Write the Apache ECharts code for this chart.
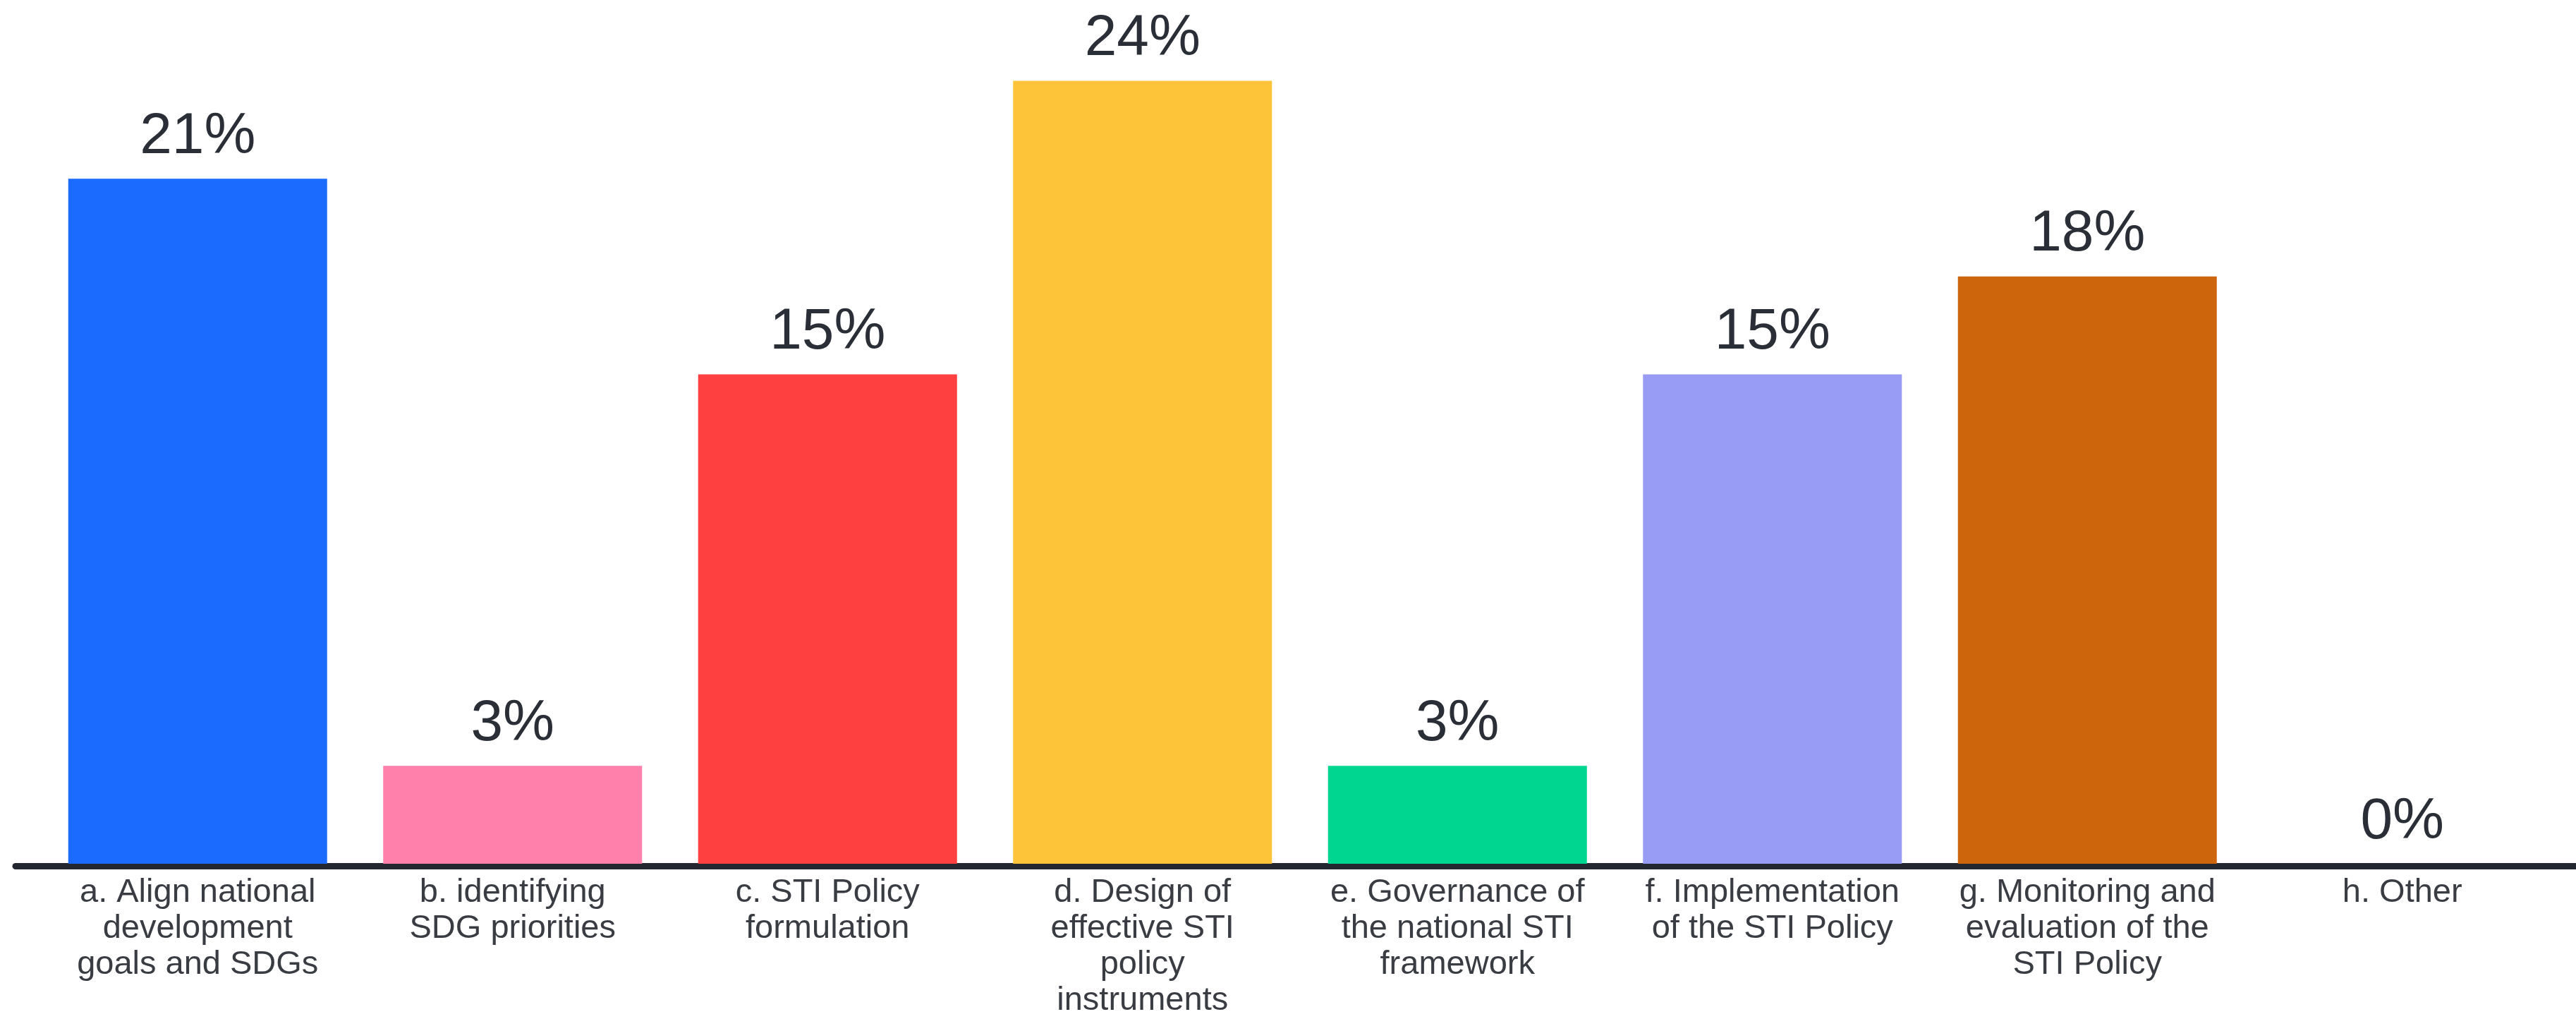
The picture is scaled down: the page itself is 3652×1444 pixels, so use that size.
<!DOCTYPE html>
<html>
<head>
<meta charset="utf-8">
<style>
  html, body { margin: 0; padding: 0; background: #ffffff; }
  #chart { width: 3652px; height: 1444px; }
</style>
<script src="https://cdn.jsdelivr.net/npm/echarts@6/dist/echarts.min.js"></script>
</head>
<body>
<div id="chart"></div>
<script>
const categories = [
  "a. Align national\ndevelopment\ngoals and SDGs",
  "b. identifying\nSDG priorities",
  "c. STI Policy\nformulation",
  "d. Design of\neffective STI\npolicy\ninstruments",
  "e. Governance of\nthe national STI\nframework",
  "f. Implementation\nof the STI Policy",
  "g. Monitoring and\nevaluation of the\nSTI Policy",
  "h. Other"
];
const values = [21, 3, 15, 24, 3, 15, 18, 0];
const barColors = ["#1c6bff", "#ff80ab", "#ff4040", "#fdc43a", "#00d68f", "#989cf4", "#cc650b", "#cccccc"];

const chart = echarts.init(document.getElementById('chart'), null, { renderer: 'canvas' });
const font = '"Liberation Sans", Arial, sans-serif';

chart.setOption({
  animation: false,
  backgroundColor: '#ffffff',
  grid: [
    { left: 57, right: 23, top: 22, bottom: 217, containLabel: false },
    { left: 22, right: 0, top: 22, bottom: 217, containLabel: false }
  ],
  xAxis: [
    {
      type: 'category',
      gridIndex: 0,
      data: categories,
      axisLine: { show: false },
      axisTick: { show: false },
      axisLabel: {
        interval: 0,
        margin: 16,
        fontFamily: font,
        fontSize: 47,
        lineHeight: 51,
        color: '#393c43',
        align: 'center'
      }
    },
    {
      type: 'category',
      gridIndex: 1,
      data: ['x'],
      axisLine: { show: true, lineStyle: { color: '#23272f', width: 9 } },
      axisTick: { show: false },
      axisLabel: { show: false }
    }
  ],
  yAxis: [
    { type: 'value', gridIndex: 0, min: 0, max: 26, show: false, splitLine: { show: false } },
    { type: 'value', gridIndex: 1, min: 0, max: 26, show: false, splitLine: { show: false } }
  ],
  series: [
    {
      type: 'bar',
      xAxisIndex: 0,
      yAxisIndex: 0,
      barCategoryGap: '17.8%',
      data: values.map((v, i) => ({ value: v, itemStyle: { color: barColors[i] } })),
      label: {
        show: true,
        position: 'top',
        distance: 18,
        formatter: '{c}%',
        fontFamily: font,
        fontSize: 82,
        color: '#2a2e37'
      },
      z: 1
    }
  ]
});
</script>
</body>
</html>
